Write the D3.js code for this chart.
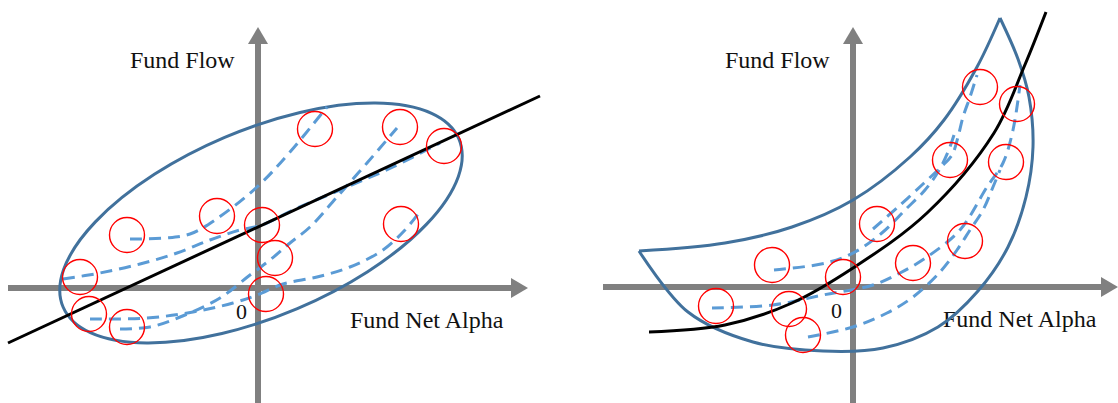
<!DOCTYPE html>
<html>
<head>
<meta charset="utf-8">
<script src="https://cdn.jsdelivr.net/npm/d3@7"></script>
<style>
  body { margin: 0; background: #fff; }
  text { font-family: "Liberation Serif", "Times New Roman", serif; fill: #111; }
</style>
</head>
<body>
<svg id="chart"></svg>
<script>
// values are in diagram units, origin = where the two axes cross, y up
const axisLabels = ["Fund Flow", "Fund Net Alpha", "0"];

// left panel: linear relation
const leftCircles = [[57,159],[142,161],[186,142],[-41,72],[-131,53],[4,63],
                     [143,64],[17,30],[-178,11],[-169,-26],[8,-6],[-131,-39]];
const leftPaths = [
  [[-128,49],[-93,50],[-68,54],[-43,68],[-1,101],[32,136],[69,181]],
  [[-195,9],[-158,15],[-118,24],[-81,35],[-48,48],[-18,58],[4,63],[35,78],[89,101],[135,121],[182,145]],
  [[-168,-31],[-111,-30],[-65,-24],[-25,-15],[-1,-7],[25,4],[59,11],[92,21],[125,38],[147,58],[160,74]],
  [[-138,-41],[-108,-39],[-73,-27],[-38,-10],[-8,13],[12,28],[32,45],[52,61],[79,91],[109,125],[139,160]]
];
const leftTrend = [[-250,-55],[282,192]];
const leftCloud = [3, 65, 215, 93, 23];   // cx, cy, rx, ry, tilt in degrees

// right panel: convex relation
const rightCircles = [[127,200],[164,183],[97,127],[153,125],[24,63],[112,46],
                      [-81,22],[-10,10],[60,24],[-137,-19],[-64,-22],[-50,-48]];
const rightPaths = [
  [[-79,17],[-27,24],[2,35],[30,55],[52,77],[72,97],[85,115],[95,135],[101,152]],
  [[20,58],[45,80],[70,103],[88,120],[99,132],[105,150],[110,170],[117,190],[124,212]],
  [[-141,-21],[-80,-18],[-30,-8],[20,2],[47,14],[74,30],[107,57],[134,100],[150,124],[160,157],[167,202]],
  [[-45,-50],[0,-40],[34,-26],[60,-10],[87,15],[104,37],[117,57],[130,77],[140,100],[147,117]]
];
const rightTrend = [[-204,-45],[-128,-38],[-61,-16],[0,19],[74,74],[141,154],[171,220],[193,275]];
const rightCloudOuter = [[-214,36],[-165,-25],[-100,-55],[-30,-64],[30,-61],[85,-40],[125,-4],
                         [155,40],[173,90],[180,140],[176,190],[165,228],[147,269]];
const rightCloudInner = [[147,269],[124,220],[91,167],[57,130],[0,87],[-61,60],[-128,44],[-214,36]];

const W = 1118, H = 403;
const svg = d3.select("#chart").attr("width", W).attr("height", H);

const grey = "#808080", outline = "#41719c", dash = "#5b9bd5", ring = "#ff0000";

function drawPanel(p) {
  const x = d3.scaleLinear().domain([0, 100]).range([p.ox, p.ox + 100]);
  const y = d3.scaleLinear().domain([0, 100]).range([p.oy, p.oy - 100]);
  const g = svg.append("g");

  // axes with arrow heads
  const head = 17, half = 10;
  g.append("line")
    .attr("x1", x(p.xExt[0])).attr("x2", x(p.xExt[1]) - head + 1)
    .attr("y1", y(0)).attr("y2", y(0))
    .attr("stroke", grey).attr("stroke-width", 6);
  g.append("path")
    .attr("d", `M${x(p.xExt[1])},${y(0)} L${x(p.xExt[1]) - head},${y(0) - half} L${x(p.xExt[1]) - head},${y(0) + half} Z`)
    .attr("fill", grey);
  g.append("line")
    .attr("x1", x(0)).attr("x2", x(0))
    .attr("y1", y(p.yExt[0])).attr("y2", y(p.yExt[1]) + head - 1)
    .attr("stroke", grey).attr("stroke-width", 6);
  g.append("path")
    .attr("d", `M${x(0)},${y(p.yExt[1])} L${x(0) - half},${y(p.yExt[1]) + head} L${x(0) + half},${y(p.yExt[1]) + head} Z`)
    .attr("fill", grey);

  // labels
  g.append("text").attr("x", x(0) - 128).attr("y", 68)
    .attr("font-size", 24).text(axisLabels[0]);
  g.append("text").attr("x", p.ox + p.alphaDx).attr("y", p.oy + 40)
    .attr("font-size", 24).text(axisLabels[1]);
  g.append("text").attr("x", x(0) - 22).attr("y", p.oy + 31)
    .attr("font-size", 22).text(axisLabels[2]);

  const smooth = d3.line().x(d => x(d[0])).y(d => y(d[1])).curve(d3.curveCatmullRom.alpha(0.5));

  // cloud outline
  if (p.cloud) {
    const [cx, cy, rx, ry, tilt] = p.cloud;
    g.append("ellipse")
      .attr("cx", x(cx)).attr("cy", y(cy))
      .attr("rx", x(rx) - x(0)).attr("ry", x(ry) - x(0))
      .attr("transform", `rotate(${-tilt},${x(cx)},${y(cy)})`)
      .attr("fill", "none").attr("stroke", outline).attr("stroke-width", 3);
  } else {
    [p.outer, p.inner].forEach(pts => {
      g.append("path").attr("d", smooth(pts))
        .attr("fill", "none").attr("stroke", outline).attr("stroke-width", 3);
    });
  }

  // fund paths
  g.selectAll(".fund").data(p.paths).join("path")
    .attr("class", "fund")
    .attr("d", smooth)
    .attr("fill", "none").attr("stroke", dash)
    .attr("stroke-width", 3).attr("stroke-dasharray", "12,7");

  // trend
  g.append("path").attr("d", smooth(p.trend))
    .attr("fill", "none").attr("stroke", "#000").attr("stroke-width", 3);

  // observations
  g.selectAll(".obs").data(p.circles).join("circle")
    .attr("class", "obs")
    .attr("cx", d => x(d[0])).attr("cy", d => y(d[1]))
    .attr("r", 17.5)
    .attr("fill", "none").attr("stroke", ring).attr("stroke-width", 1.4);
}

drawPanel({
  ox: 258, oy: 288, xExt: [-250, 270], yExt: [-115, 261], alphaDx: 92,
  circles: leftCircles, paths: leftPaths, trend: leftTrend, cloud: leftCloud
});
drawPanel({
  ox: 853, oy: 287, xExt: [-250, 265], yExt: [-116, 260], alphaDx: 90,
  circles: rightCircles, paths: rightPaths, trend: rightTrend,
  outer: rightCloudOuter, inner: rightCloudInner
});
</script>
</body>
</html>
